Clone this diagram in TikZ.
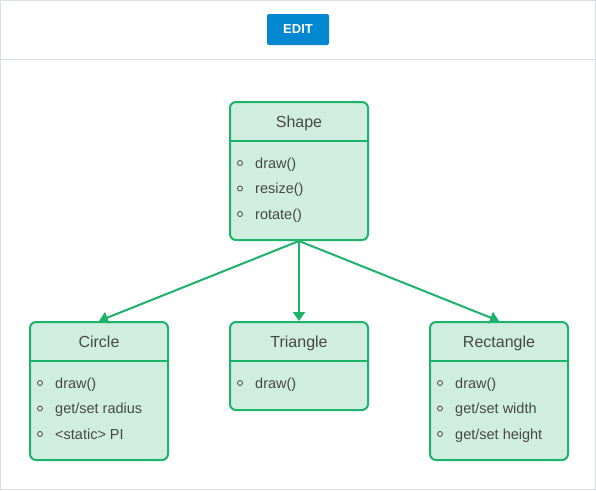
\documentclass[tikz,border=0pt]{standalone}
\usepackage{fontspec}
\setmainfont{Liberation Sans}
\usetikzlibrary{arrows.meta,calc,positioning}

\definecolor{umlgreen}{HTML}{1DB36B}
\definecolor{umlfill}{HTML}{D0EEE0}
\definecolor{umltext}{HTML}{474747}
\definecolor{editblue}{HTML}{0288D1}
\definecolor{framegray}{HTML}{D9DEE5}

\tikzset{
    classbox/.style={draw=umlgreen, fill=umlfill, line width=2pt, rounded corners=6pt,
        minimum width=138pt, anchor=north west, inner sep=0pt},
    classtitle/.style={text=umltext, font=\fontsize{16}{19}\selectfont, inner sep=0pt, anchor=base},
    sepline/.style={draw=umlgreen, line width=2pt},
    itemtext/.style={text=umltext, font=\fontsize{14.5}{17}\selectfont, anchor=base west, inner sep=0pt},
    itembullet/.style={circle, draw=umltext, line width=0.8pt, minimum size=5pt, inner sep=0pt},
    inherit/.style={draw=umlgreen, line width=2pt, -{Triangle[length=9pt,width=12pt]}},
    editbtn/.style={fill=editblue, rounded corners=2pt, minimum width=62pt, minimum height=31pt,
        text=white, font=\fontsize{13}{15}\selectfont\bfseries, inner sep=0pt}
}

% name, x, y, height, title, items
\newcommand{\umlclass}[6]{%
    \node[classbox, minimum height=#4] (#1) at (#2,#3) {};
    \node[classtitle] (#1-title) at ($(#1.north)+(0,26.8)$) {#5};
    \draw[sepline] ($(#1.north west)+(0,40)$) -- ($(#1.north east)+(0,40)$);
    \foreach \txt [count=\i] in {#6} {
        \node[itembullet] (#1-b\i) at ($(#1.north west)+(11,62+25.5*\i-25.5)$) {};
        \node[itemtext] (#1-i\i) at ($(#1.north west)+(26,67+25.5*\i-25.5)$) {\txt};
    }
}

\begin{document}
\begin{tikzpicture}[x=1pt,y=-1pt]
    \useasboundingbox (0,0) rectangle (596,490);

    % Drawing frame and header
    \draw[framegray, line width=1pt] (0.5,0.5) rectangle (595.5,489.5);
    \draw[framegray, line width=1pt] (0.5,59.5) -- (595.5,59.5);
    \node[editbtn] (edit) at (298,29.5) {EDIT};

    % Drawing classes
    \umlclass{shape}{229}{101}{138pt}{Shape}{draw(),resize(),rotate()}
    \umlclass{circle}{29}{321}{138pt}{Circle}{draw(),get/set radius,<static> PI}
    \umlclass{triangle}{229}{321}{88pt}{Triangle}{draw()}
    \umlclass{rectangle}{429}{321}{138pt}{Rectangle}{draw(),get/set width,get/set height}

    % Drawing inheritance arrows
    \draw[inherit] (shape.south) -- (circle.north);
    \draw[inherit] (shape.south) -- (triangle.north);
    \draw[inherit] (shape.south) -- (rectangle.north);
\end{tikzpicture}
\end{document}
